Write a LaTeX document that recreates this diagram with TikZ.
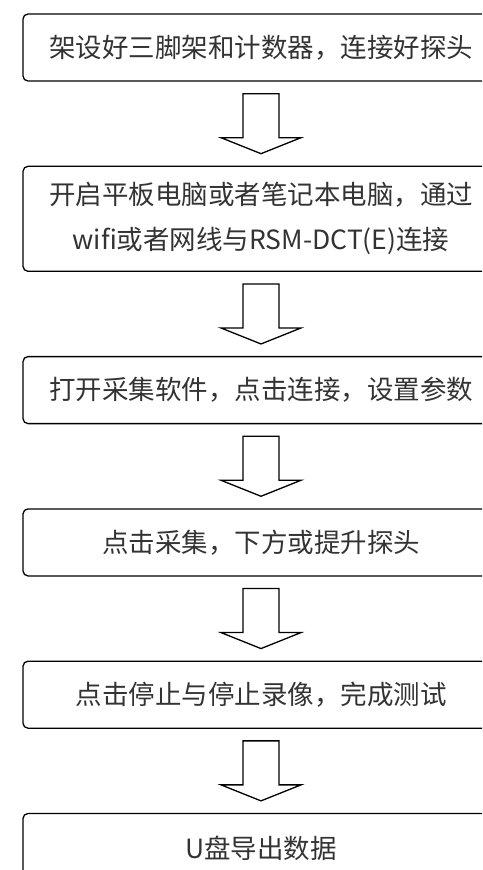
\documentclass[tikz,border=0pt]{standalone}
\usepackage{fontspec}
\usepackage{tikz}
\usetikzlibrary{positioning}
\usetikzlibrary{calc}
\newfontfamily\cjk{Noto Sans CJK SC}

\begin{document}
\begin{tikzpicture}[x=1pt, y=1pt, node distance=84pt,
    stepbox/.style={draw=black, line width=1.3pt, rounded corners=5pt, minimum width=476pt, minimum height=67pt,
        align=center, text=black!80, font=\cjk\fontsize{26.5}{45}\selectfont},
    hollowarrow/.style={draw=black, line width=1.3pt, fill=white, line join=miter}]
            \useasboundingbox (0,0) rectangle (482,-870);
            \clip (0,0) rectangle (482,-870);
            \node[stepbox] (setup) at (261,-47.5) {架设好三脚架和计数器，连接好探头};
            \node[stepbox, minimum height=105pt] (connect) [below=of setup] {开启平板电脑或者笔记本电脑，通过\\wifi或者网线与RSM-DCT(E)连接};
            \node[stepbox] (software) [below=of connect] {打开采集软件，点击连接，设置参数};
            \node[stepbox] (collect) [below=of software] {点击采集，下方或提升探头};
            \node[stepbox] (stop) [below=of collect] {点击停止与停止录像，完成测试};
            \node[stepbox, minimum height=70pt] (export) [below=of stop] {U盘导出数据};
            % hollow block arrows between the steps
            \foreach \a/\b in {setup/connect, connect/software, software/collect, collect/stop, stop/export}
                \draw[hollowarrow] ($(\a.south)+(-18,-12)$) -- ++(0,-44) -- ++(-22,0) -- ($(\b.north)+(0,12)$)
                    -- ($(\a.south)+(40,-56)$) -- ++(-22,0) -- ($(\a.south)+(18,-12)$) -- cycle;
        \end{tikzpicture}
\end{document}
